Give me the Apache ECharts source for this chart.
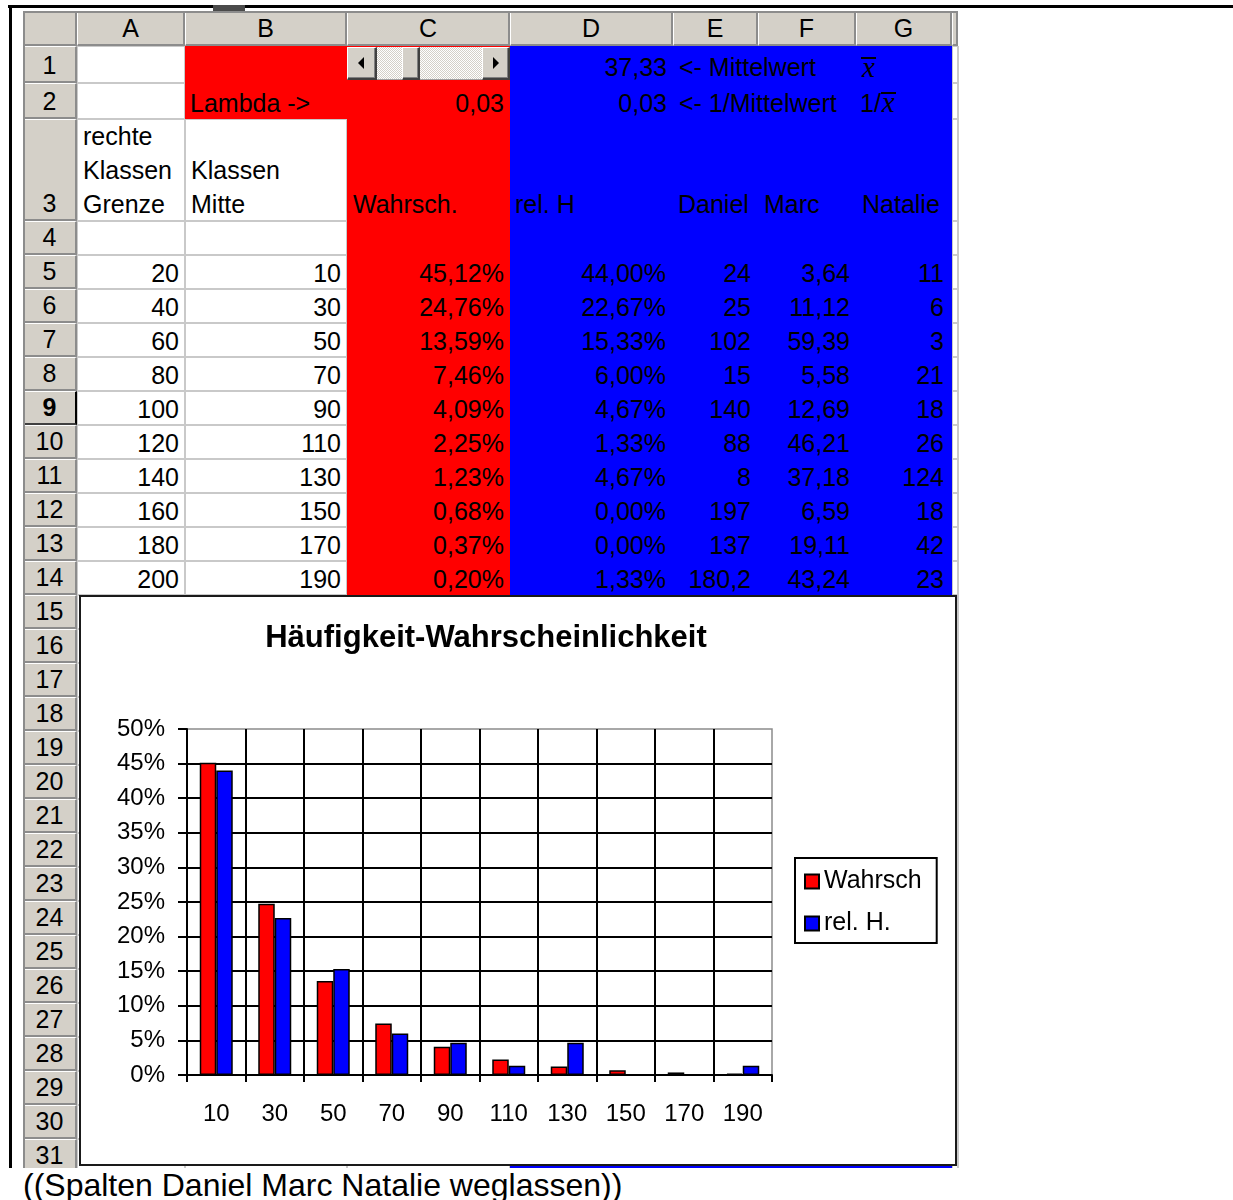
<!DOCTYPE html>
<html>
<head>
<meta charset="utf-8">
<script src="https://cdn.jsdelivr.net/npm/echarts@6/dist/echarts.min.js"></script>
<style>
  body { margin: 0; background: #fff; width: 1233px; height: 1200px; overflow: hidden; position: relative;
         font-family: "Liberation Sans", Arial, sans-serif; }
  .abs { position: absolute; box-sizing: border-box; }
  #sheet { position: absolute; left: 0; top: 0; width: 1233px; height: 1168px; overflow: hidden; }
  #frame { position: absolute; left: 79px; top: 595px; width: 878px; height: 571px; border: 2px solid #1a1a1a;
           box-sizing: border-box; background: #fff; }
  #chart { position: absolute; left: 0; top: 0; width: 874px; height: 567px; }
  #note { position: absolute; left: 23px; top: 1169px; font-size: 32px; line-height: 32px; white-space: nowrap; color: #000; }
  .xbar { display: inline-block; border-top: 2px solid #000; font-family: "Liberation Serif", serif; font-style: italic;
          font-size: 29px; line-height: 17px; height: 19px; padding: 0 1px; }
</style>
</head>
<body>
<div id="sheet"></div>
<div id="frame"><div id="chart"></div></div>
<div id="note">((Spalten Daniel Marc Natalie weglassen))</div>
<script>
// ---- table data ----
const colLetters = ['A', 'B', 'C', 'D', 'E', 'F', 'G'];
const classRight = [20, 40, 60, 80, 100, 120, 140, 160, 180, 200];
const classMid = [10, 30, 50, 70, 90, 110, 130, 150, 170, 190];
const wahrsch = [45.12, 24.76, 13.59, 7.46, 4.09, 2.25, 1.23, 0.68, 0.37, 0.20];   // %
const relH = [44.00, 22.67, 15.33, 6.00, 4.67, 1.33, 4.67, 0.00, 0.00, 1.33];     // %
const daniel = [24, 25, 102, 15, 140, 88, 8, 197, 137, 180.2];
const marc = [3.64, 11.12, 59.39, 5.58, 12.69, 46.21, 37.18, 6.59, 19.11, 43.24];
const natalie = [11, 6, 3, 21, 18, 26, 124, 18, 42, 23];
const mittelwert = 37.33;
const lambdaValue = 0.03;
const seriesNames = ['Wahrsch', 'rel. H.'];

// ---- worksheet geometry ----
const colEdges = [77, 185, 347, 510, 673, 758, 856, 952];
const rowEdges = [46, 83, 119, 221];
for (let r = 4; r <= 31; r++) rowEdges.push(221 + (r - 3) * 34);

const sheet = document.getElementById('sheet');
function box(x0, y0, x1, y1, style, html) {
  const d = document.createElement('div');
  d.className = 'abs';
  d.style.left = x0 + 'px'; d.style.top = y0 + 'px';
  d.style.width = (x1 - x0) + 'px'; d.style.height = (y1 - y0) + 'px';
  Object.assign(d.style, style || {});
  if (html != null) d.innerHTML = html;
  sheet.appendChild(d);
  return d;
}
function cellRect(col, row) {
  return [colEdges[col], rowEdges[row - 1], colEdges[col + 1], rowEdges[row]];
}
const de = (v, digits) => (digits == null ? String(v) : v.toFixed(digits)).replace('.', ',');

// outer document table lines
box(8, 5, 1233, 8, { background: '#000' });
box(9, 5, 12, 1168, { background: '#000' });
box(213, 5, 245, 11, { background: '#4a4a4a' });

// grid lines of the white cells
const gridColor = '#c9c9c9';
colEdges.concat([958]).forEach(x => box(x - 1, 46, x + 1, 1168, { background: gridColor }));
rowEdges.forEach(y => box(77, y - 1, 958, y + 1, { background: gridColor }));

// coloured cell fills
box(185, 46, 347, 119, { background: '#ff0000' });
box(347, 46, 510, 595, { background: '#ff0000' });
box(510, 46, 952, 1168, { background: '#0000ff' });

// header style
const hdr = { background: '#d4d0c8', borderTop: '1px solid #fff', borderLeft: '1px solid #fff',
              borderRight: '2px solid #8c8c8c', borderBottom: '2px solid #8c8c8c',
              fontSize: '25px', color: '#000', textAlign: 'center' };
box(23, 11, 958, 46, { background: '#d4d0c8' });
box(23, 11, 77, 46, hdr);
colLetters.forEach((c, i) => {
  box(colEdges[i], 11, colEdges[i + 1], 46, Object.assign({}, hdr, { lineHeight: '33px' }), c);
});
box(952, 11, 958, 46, hdr);
for (let r = 1; r <= 31; r++) {
  const st = Object.assign({}, hdr, { display: 'flex', alignItems: 'flex-end', justifyContent: 'center', lineHeight: '32px' });
  if (r === 9) Object.assign(st, { fontWeight: 'bold', borderRight: '2px solid #000', borderBottom: '2px solid #404040' });
  box(23, rowEdges[r - 1], 77, rowEdges[r], st, '<span>' + r + '</span>');
}
box(23, 11, 25, 1168, { background: '#8c8c8c' });
box(23, 11, 958, 13, { background: '#8c8c8c' });

// cell text
function put(col, row, html, align, extra) {
  const [x0, y0, x1, y1] = cellRect(col, row);
  const st = { display: 'flex', alignItems: 'flex-end', justifyContent: align === 'right' ? 'flex-end' : 'flex-start',
               padding: '0 6px', fontSize: '25px', lineHeight: '32px', whiteSpace: 'nowrap', color: '#000' };
  Object.assign(st, extra || {});
  box(x0, y0, x1, y1, st, '<span>' + html + '</span>');
}
const xbar = '<span class="xbar">x</span>';

put(1, 2, 'Lambda -&gt;', 'left', { paddingLeft: '5px' });
put(2, 2, de(lambdaValue, 2), 'right');
put(3, 1, de(mittelwert, 2), 'right');
put(4, 1, '&lt;- Mittelwert', 'left');
put(6, 1, xbar, 'left', { alignItems: 'flex-start', paddingTop: '6px', paddingLeft: '5px' });
put(3, 2, de(1 / mittelwert, 2), 'right');
put(4, 2, '&lt;- 1/Mittelwert', 'left');
put(6, 2, '1/' + xbar, 'left', { paddingLeft: '4px', alignItems: 'center', paddingTop: '4px' });

put(0, 3, 'rechte<br>Klassen<br>Grenze', 'left', { lineHeight: '34px' });
put(1, 3, 'Klassen<br>Mitte', 'left', { lineHeight: '34px' });
put(2, 3, 'Wahrsch.', 'left', { lineHeight: '34px' });
put(3, 3, 'rel. H', 'left', { lineHeight: '34px', paddingLeft: '5px' });
put(4, 3, 'Daniel', 'left', { lineHeight: '34px', paddingLeft: '5px' });
put(5, 3, 'Marc', 'left', { lineHeight: '34px' });
put(6, 3, 'Natalie', 'left', { lineHeight: '34px' });

classMid.forEach((m, i) => {
  const row = 5 + i;
  put(0, row, String(classRight[i]), 'right');
  put(1, row, String(m), 'right');
  put(2, row, de(wahrsch[i], 2) + '%', 'right');
  put(3, row, de(relH[i], 2) + '%', 'right', { paddingRight: '7px' });
  put(4, row, de(daniel[i]), 'right', { paddingRight: '7px' });
  put(5, row, de(marc[i], 2), 'right');
  put(6, row, de(natalie[i]), 'right', { paddingRight: '8px' });
});

// scroll bar control sitting on C1
const btn = { background: '#d4d0c8', borderTop: '1px solid #fff', borderLeft: '1px solid #fff',
              borderRight: '2px solid #404040', borderBottom: '2px solid #404040',
              boxShadow: 'inset -1px -1px 0 #808080' };
box(377, 47, 482, 80, { background: 'repeating-conic-gradient(#ffffff 0 25%, #d4d0c8 0 50%) 0 0/2px 2px',
                        borderBottom: '1px solid #a0a0a0' });
box(347, 47, 377, 80, btn);
box(402, 47, 420, 80, btn);
box(482, 47, 510, 80, btn);
box(358, 57, 364, 69, { width: '0px', height: '0px', borderTop: '6px solid transparent',
                        borderBottom: '6px solid transparent', borderRight: '6px solid #000' });
box(493, 57, 499, 69, { width: '0px', height: '0px', borderTop: '6px solid transparent',
                        borderBottom: '6px solid transparent', borderLeft: '6px solid #000' });

// ---- embedded chart ----
const fontFamily = '"Liberation Sans", Arial, sans-serif';
const chart = echarts.init(document.getElementById('chart'));
chart.setOption({
  animation: false,
  backgroundColor: '#fff',
  textStyle: { fontFamily: fontFamily },
  title: {
    text: 'Häufigkeit-Wahrscheinlichkeit',
    left: 400, top: 21, textAlign: 'center',
    textStyle: { fontSize: 31, fontWeight: 'bold', color: '#000', fontFamily: fontFamily }
  },
  legend: {
    data: seriesNames,
    orient: 'vertical', left: 714, top: 261,
    padding: [11, 15, 7, 9],
    itemWidth: 14, itemHeight: 14, itemGap: 17,
    icon: 'rect', selectedMode: false,
    borderColor: '#000', borderWidth: 2,
    textStyle: { fontSize: 25, color: '#000', fontFamily: fontFamily }
  },
  grid: {
    left: 106, top: 132, width: 585, height: 346,
    show: true, borderColor: '#8c8c8c', borderWidth: 1.5,
    containLabel: false, outerBoundsMode: 'none'
  },
  xAxis: {
    type: 'category',
    data: classMid.map(String),
    axisLine: { lineStyle: { color: '#000', width: 2 } },
    axisTick: { show: true, length: 7, lineStyle: { color: '#000', width: 2 } },
    axisLabel: { interval: 0, margin: 27, fontSize: 24, color: '#000', fontFamily: fontFamily },
    splitLine: { show: true, interval: 0, showMaxLine: false, lineStyle: { color: '#000', width: 2 } }
  },
  yAxis: {
    type: 'value', min: 0, max: 50, interval: 5,
    axisLine: { show: true, lineStyle: { color: '#000', width: 2 } },
    axisTick: { show: true, length: 9, lineStyle: { color: '#000', width: 2 } },
    axisLabel: { formatter: '{value}%', margin: 22, fontSize: 24, color: '#000', fontFamily: fontFamily },
    splitLine: { show: true, showMaxLine: false, lineStyle: { color: '#000', width: 2 } }
  },
  series: [
    { name: seriesNames[0], type: 'bar', data: wahrsch, barWidth: 16.5, barGap: '0%',
      itemStyle: { color: '#ff0000', borderColor: '#000', borderWidth: 1.5 } },
    { name: seriesNames[1], type: 'bar', data: relH, barWidth: 16.5, barGap: '0%',
      itemStyle: { color: '#0000ff', borderColor: '#000', borderWidth: 1.5 } }
  ]
});
</script>
</body>
</html>
